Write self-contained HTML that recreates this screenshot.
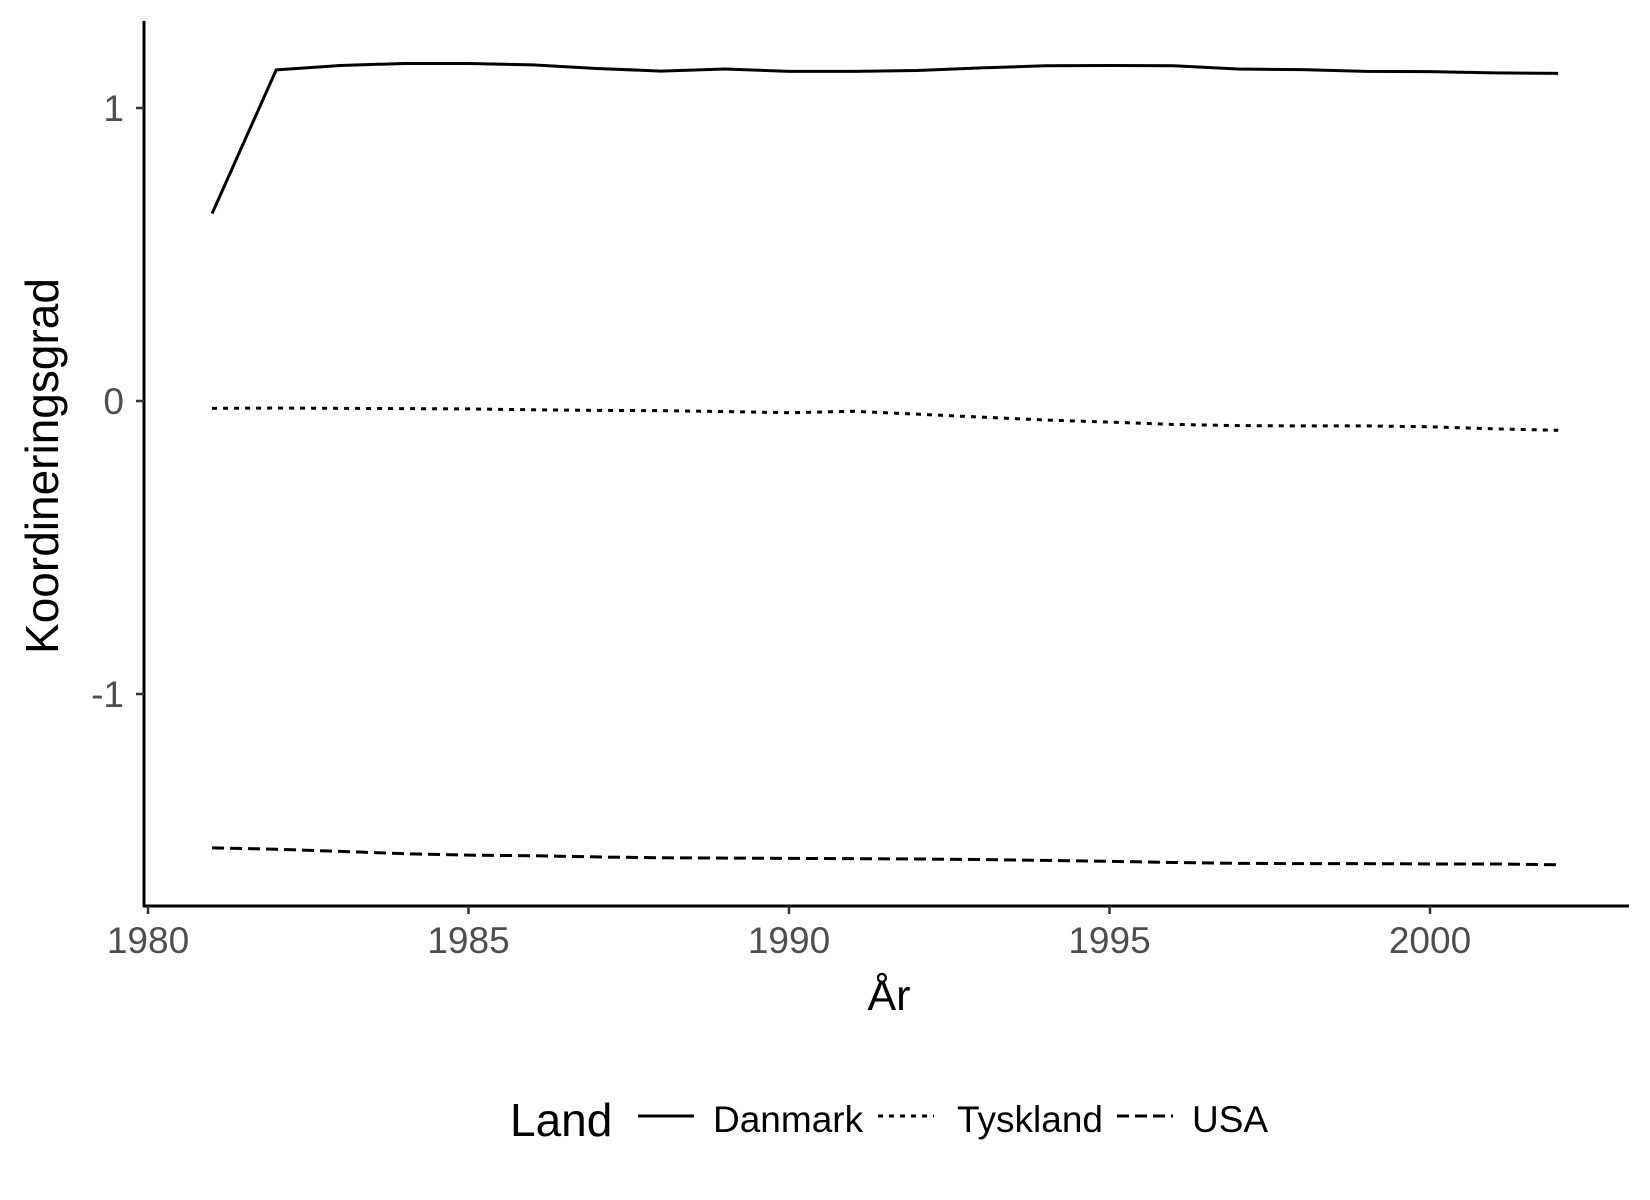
<!DOCTYPE html>
<html><head><meta charset="utf-8"><style>
html,body{margin:0;padding:0;background:#fff;}
svg{display:block;font-family:"Liberation Sans",Arial,sans-serif;}
</style></head><body>
<svg id="chart" width="1650" height="1200" viewBox="0 0 1650 1200">
<g id="marks"></g>
<line x1="144" y1="21" x2="144" y2="907" stroke="#000" stroke-width="3"/>
<line x1="143" y1="906" x2="1629" y2="906" stroke="#000" stroke-width="3"/>
<g id="xticks"></g>
<g id="yticks"></g>
<text x="889" y="1010" font-size="43" text-anchor="middle">År</text>
<text transform="translate(58,466) rotate(-90)" font-size="46" text-anchor="middle">Koordineringsgrad</text>
<g transform="translate(0,-4)">
<text x="510" y="1140" font-size="46">Land</text>
<g><line x1="638" y1="1120" x2="694" y2="1120" stroke="#000" stroke-width="3"/><text x="713" y="1136" font-size="37">Danmark</text></g>
<g><line x1="878" y1="1120" x2="934" y2="1120" stroke="#000" stroke-width="3" stroke-dasharray="5 6"/><text x="957" y="1136" font-size="37">Tyskland</text></g>
<g><line x1="1117" y1="1120" x2="1173" y2="1120" stroke="#000" stroke-width="3" stroke-dasharray="12 6"/><text x="1192" y="1136" font-size="37">USA</text></g>
</g>
</svg>
<script>
const years=[1981,1982,1983,1984,1985,1986,1987,1988,1989,1990,1991,1992,1993,1994,1995,1996,1997,1998,1999,2000,2001,2002];
const danmark=[0.64,1.13,1.145,1.152,1.152,1.147,1.135,1.126,1.133,1.125,1.125,1.128,1.137,1.144,1.145,1.144,1.133,1.131,1.125,1.124,1.12,1.118];
const tyskland=[-0.025,-0.024,-0.025,-0.026,-0.027,-0.03,-0.032,-0.033,-0.036,-0.04,-0.035,-0.045,-0.055,-0.065,-0.072,-0.08,-0.084,-0.085,-0.085,-0.088,-0.095,-0.1];
const usa=[-1.525,-1.53,-1.537,-1.545,-1.55,-1.552,-1.556,-1.559,-1.56,-1.561,-1.562,-1.563,-1.565,-1.568,-1.571,-1.575,-1.578,-1.579,-1.579,-1.58,-1.58,-1.583];
const xTicks=[1980,1985,1990,1995,2000];
const yTicks=[-1,0,1];
const NS="http://www.w3.org/2000/svg";
function xs(v){return 148+(v-1980)*64.1;}
function ys(v){return 401-v*293;}
const marks=document.getElementById('marks');
const series=[["danmark",danmark,""],["tyskland",tyskland,"5 6"],["usa",usa,"12 6"]];
series.forEach(function(s){
  const p=document.createElementNS(NS,'polyline');
  p.setAttribute('points',years.map(function(y,i){return xs(y)+','+ys(s[1][i]);}).join(' '));
  p.setAttribute('fill','none');p.setAttribute('stroke','#000');p.setAttribute('stroke-width','3');
  if(s[2])p.setAttribute('stroke-dasharray',s[2]);
  
  
  marks.appendChild(p);
});
const xt=document.getElementById('xticks');
xTicks.forEach(function(t){
  const l=document.createElementNS(NS,'line');
  l.setAttribute('x1',xs(t));l.setAttribute('x2',xs(t));l.setAttribute('y1',906);l.setAttribute('y2',914);
  l.setAttribute('stroke','#333');l.setAttribute('stroke-width','2.5');
  
  
  xt.appendChild(l);
  const tx=document.createElementNS(NS,'text');
  tx.setAttribute('x',xs(t));tx.setAttribute('y',953);tx.setAttribute('font-size','37');tx.setAttribute('fill','#4d4d4d');tx.setAttribute('text-anchor','middle');
  tx.textContent=t;
  
  
  xt.appendChild(tx);
});
const yt=document.getElementById('yticks');
yTicks.forEach(function(t){
  const l=document.createElementNS(NS,'line');
  l.setAttribute('x1',136);l.setAttribute('x2',144);l.setAttribute('y1',ys(t));l.setAttribute('y2',ys(t));
  l.setAttribute('stroke','#333');l.setAttribute('stroke-width','2.5');
  
  
  yt.appendChild(l);
  const tx=document.createElementNS(NS,'text');
  tx.setAttribute('x',124);tx.setAttribute('y',ys(t)+13);tx.setAttribute('font-size','37');tx.setAttribute('fill','#4d4d4d');tx.setAttribute('text-anchor','end');
  tx.textContent=t;
  
  
  yt.appendChild(tx);
});
</script>
</body></html>
